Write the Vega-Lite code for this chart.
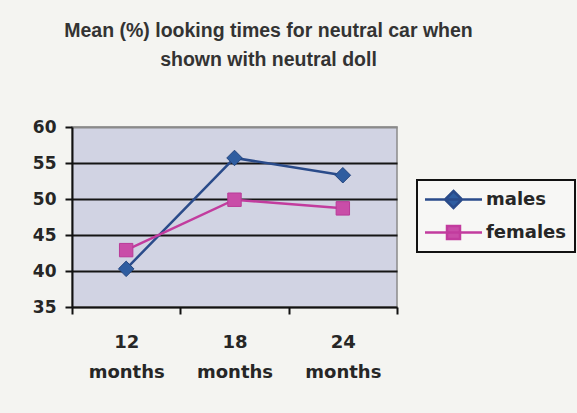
{
  "$schema": "https://vega.github.io/schema/vega-lite/v6.json",
  "width": 325,
  "height": 180,
  "autosize": {"type": "none"},
  "padding": {"left": 72, "top": 127, "right": 180, "bottom": 106},
  "background": "#F4F4F1",
  "title": {
    "text": ["Mean (%) looking times for neutral car when", "shown with neutral doll"],
    "font": "Liberation Sans",
    "fontSize": 19.5,
    "fontWeight": "bold",
    "color": "#333333",
    "lineHeight": 29,
    "anchor": "middle",
    "dx": 34,
    "offset": 48
  },
  "config": {
    "view": {"fill": "#D1D3E3", "stroke": "#8A8A8A", "strokeWidth": 1.5}
  },
  "data": {
    "values": [
      {"age": "12 months", "sex": "males", "pct": 40.3},
      {"age": "18 months", "sex": "males", "pct": 55.7},
      {"age": "24 months", "sex": "males", "pct": 53.3},
      {"age": "12 months", "sex": "females", "pct": 42.9},
      {"age": "18 months", "sex": "females", "pct": 49.9},
      {"age": "24 months", "sex": "females", "pct": 48.7}
    ]
  },
  "encoding": {
    "x": {
      "field": "age",
      "type": "ordinal",
      "sort": ["12 months", "18 months", "24 months"],
      "scale": {"type": "band", "paddingInner": 0, "paddingOuter": 0},
      "axis": {
        "title": null,
        "labelAngle": 0,
        "labelExpr": "split(datum.label, ' ')",
        "labelFont": "DejaVu Sans",
        "labelFontSize": 18,
        "labelFontWeight": "bold",
        "labelColor": "#262626",
        "labelLineHeight": 30,
        "labelBaseline": "top",
        "labelPadding": 19,
        "tickBand": "extent",
        "tickColor": "#111111",
        "tickWidth": 2,
        "tickSize": 7,
        "domainColor": "#111111",
        "domainWidth": 2,
        "grid": false
      }
    },
    "y": {
      "field": "pct",
      "type": "quantitative",
      "scale": {"domain": [35, 60], "zero": false, "nice": false},
      "axis": {
        "title": null,
        "values": [35, 40, 45, 50, 55, 60],
        "labelFont": "DejaVu Sans",
        "labelFontSize": 17,
        "labelFontWeight": "bold",
        "labelColor": "#262626",
        "labelPadding": 9,
        "tickColor": "#111111",
        "tickWidth": 2,
        "tickSize": 7,
        "domainColor": "#111111",
        "domainWidth": 2,
        "grid": true,
        "gridColor": {"condition": {"test": "datum.value == 60 || datum.value == 35", "value": "#8A8A8A"}, "value": "#151515"},
        "gridWidth": 2
      }
    }
  },
  "layer": [
    {
      "mark": {"type": "line", "strokeWidth": 2.5},
      "encoding": {
        "color": {
          "field": "sex",
          "type": "nominal",
          "scale": {"domain": ["males", "females"], "range": ["#2A4B8A", "#C23C9E"]},
          "legend": {
            "orient": "none",
            "legendX": 345,
            "legendY": 53,
            "title": null,
            "padding": 8,
            "strokeColor": "#111111",
            "fillColor": "#F7F7F5",
            "symbolSize": 400,
            "symbolStrokeWidth": 2.5,
            "symbolOffset": 17,
            "labelFont": "DejaVu Sans",
            "labelFontSize": 18,
            "labelFontWeight": "bold",
            "labelColor": "#262626",
            "labelOffset": 21,
            "rowPadding": 8,
            "encode": {
              "legend": {"update": {"strokeWidth": {"value": 2}}},
              "symbols": {
                "update": {
                  "shape": {"signal": "datum.value == 'males' ? 'M-2.85,0H2.85M0,-0.85L0.85,0L0,0.85L-0.85,0Z' : 'M-2.85,0H2.85M-0.65,-0.65H0.65V0.65H-0.65Z'"},
                  "fill": {"signal": "datum.value == 'males' ? '#2F5DA0' : '#C94DA8'"},
                  "stroke": {"signal": "datum.value == 'males' ? '#2A4B8A' : '#C23C9E'"},
                  "strokeWidth": {"value": 2.5},
                  "size": {"value": 400},
                  "opacity": {"value": 1}
                }
              }
            }
          }
        }
      }
    },
    {
      "transform": [{"filter": "datum.sex == 'males'"}],
      "mark": {"type": "point", "shape": "diamond", "filled": true, "opacity": 1, "size": 240, "fill": "#2F5DA0", "stroke": "#24457F", "strokeWidth": 1}
    },
    {
      "transform": [{"filter": "datum.sex == 'females'"}],
      "mark": {"type": "point", "shape": "square", "filled": true, "opacity": 1, "size": 180, "fill": "#C94DA8", "stroke": "#B93A98", "strokeWidth": 1}
    }
  ]
}
